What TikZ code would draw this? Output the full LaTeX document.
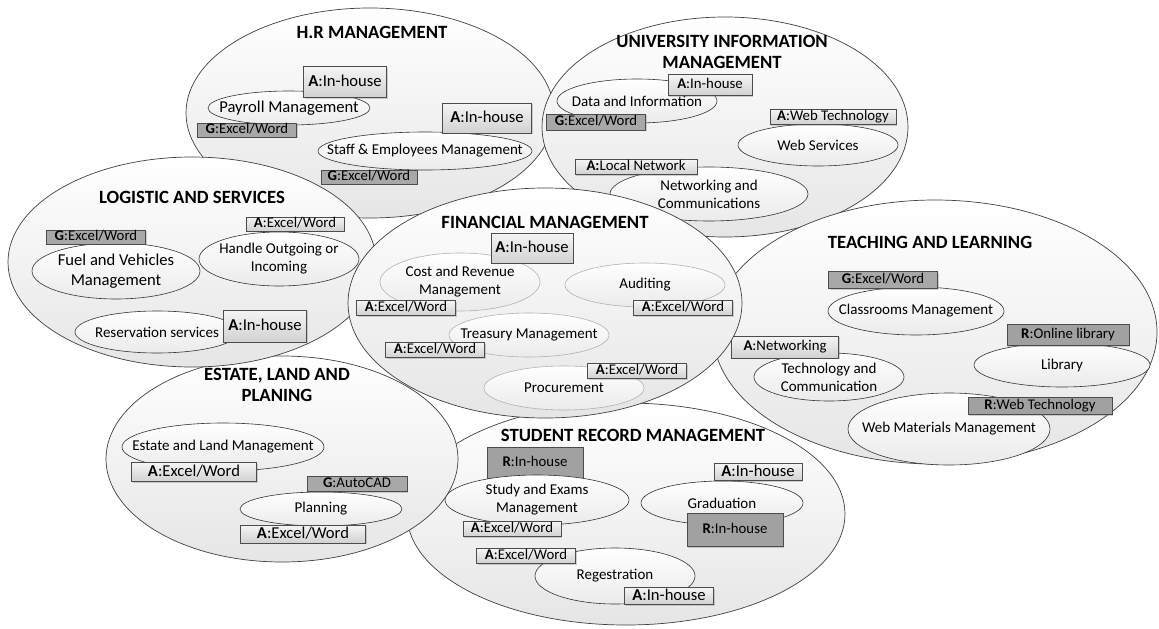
\documentclass[tikz,border=0pt]{standalone}
\usepackage{fontspec}
\setmainfont{Carlito}
\usetikzlibrary{shapes.geometric,shadows}
\tikzset{
  dept/.style      = {ellipse, draw=black!75, line width=0.7pt, inner sep=0pt, top color=white, bottom color=black!10},
  depttitle/.style = {align=center, font=\fontsize{18.7}{21.5}\selectfont\bfseries},
  proc/.style      = {ellipse, draw=black!80, line width=0.6pt, inner sep=0pt, top color=white, bottom color=black!8},
  fproc/.style     = {proc, draw=black!30},
  proctext/.style  = {align=center, inner sep=0pt, font=\fontsize{15}{18}\selectfont},
  big/.style       = {font=\fontsize{16.6}{19.5}\selectfont},
  sw/.style        = {draw=black!70, line width=0.6pt, inner sep=0pt, text height=10.5pt, text depth=3pt,
                      font=\fontsize{14.8}{17}\selectfont,
                      drop shadow={shadow xshift=1.4pt, shadow yshift=-1.4pt, opacity=.35}},
  swL/.style       = {font=\fontsize{16.6}{19}\selectfont, text height=11.5pt, text depth=3.5pt},
  swA/.style       = {sw, top color=black!4, bottom color=black!18},
  swG/.style       = {sw, fill=black!34},
  swR/.style       = {sw, fill=black!37},
}
\newcommand{\sys}[2]{\textbf{#1}:#2}

\begin{document}
\begin{tikzpicture}[x=1pt, y=-1pt]
  \useasboundingbox (0,0) rectangle (1159,629);

  % H.R management
  \node[dept, minimum width=368pt, minimum height=210pt] (hr) at (370,113) {};
  \node[depttitle] (hrT) at (372,32) {H.R MANAGEMENT};
  \node[proc, minimum width=162pt, minimum height=34pt, label={[proctext, big]center:Payroll Management}] (pay) at (289,108) {};
  \node[swA, swL, minimum width=83pt, minimum height=31pt] (payA) at (345,82) {\sys{A}{In-house}};
  \node[swG, minimum width=99pt, minimum height=14pt] (payG) at (247,130) {\sys{G}{Excel/Word}};
  \node[proc, minimum width=214pt, minimum height=38pt, label={[proctext]center:Staff \& Employees Management}] (staff) at (425,151) {};
  \node[swA, swL, minimum width=89pt, minimum height=30pt] (staffA) at (487,118) {\sys{A}{In-house}};
  \node[swG, minimum width=96pt, minimum height=14pt] (staffG) at (369,177) {\sys{G}{Excel/Word}};

  % university information management
  \node[dept, minimum width=366pt, minimum height=220pt] (uim) at (725,127) {};
  \node[depttitle] (uimT) at (722,52) {UNIVERSITY INFORMATION\\MANAGEMENT};
  \node[proc, minimum width=160pt, minimum height=44pt, label={[proctext]center:Data and Information}] (data) at (637,101) {};
  \node[swA, minimum width=84pt, minimum height=21pt] (dataA) at (710,85) {\sys{A}{In-house}};
  \node[swG, minimum width=99pt, minimum height=16pt] (dataG) at (596,122) {\sys{G}{Excel/Word}};
  \node[proc, minimum width=160pt, minimum height=42pt, label={[proctext]center:Web Services}] (websrv) at (818,145) {};
  \node[swA, minimum width=126pt, minimum height=15pt] (websrvA) at (833,117) {\sys{A}{Web Technology}};
  \node[proc, minimum width=198pt, minimum height=54pt, label={[proctext]center:Networking and\\Communications}] (netcom) at (709,194) {};
  \node[swA, minimum width=122pt, minimum height=15pt] (netcomA) at (636,167) {\textbf{A:}Local Network};

  % student record management
  \node[dept, minimum width=438pt, minimum height=222pt] (srm) at (626,514) {};
  \node[depttitle] (srmT) at (633,435) {STUDENT RECORD MANAGEMENT};
  \node[swR, minimum width=96pt, minimum height=31pt] (studyR) at (535,463) {\sys{R}{In-house}};
  \node[proc, minimum width=184pt, minimum height=50pt, label={[proctext]center:Study and Exams\\Management}] (study) at (537,500) {};
  \node[swA, minimum width=98pt, minimum height=15pt] (studyA) at (512,529) {\sys{A}{Excel/Word}};
  \node[proc, minimum width=162pt, minimum height=44pt, label={[proctext]center:Graduation}] (grad) at (722,503) {};
  \node[swA, swL, minimum width=88pt, minimum height=17pt] (gradA) at (758,472) {\sys{A}{In-house}};
  \node[swR, minimum width=96pt, minimum height=33pt] (gradR) at (735,530) {\sys{R}{In-house}};
  \node[proc, minimum width=160pt, minimum height=56pt, label={[proctext]center:Regestration}] (reg) at (615,576) {};
  \node[swA, minimum width=99pt, minimum height=15pt] (regA) at (526,556) {\sys{A}{Excel/Word}};
  \node[swA, swL, minimum width=89pt, minimum height=17pt] (regB) at (669,596) {\sys{A}{In-house}};

  % estate, land and planing
  \node[dept, minimum width=352pt, minimum height=206pt] (est) at (282,459) {};
  \node[depttitle] (estT) at (277,385) {ESTATE, LAND AND\\PLANING};
  \node[proc, minimum width=202pt, minimum height=48pt, label={[proctext]center:Estate and Land Management}] (land) at (223,447) {};
  \node[swA, swL, minimum width=125pt, minimum height=19pt] (landA) at (194,472) {\sys{A}{Excel/Word}};
  \node[proc, minimum width=162pt, minimum height=34pt, label={[proctext]center:Planning}] (plan) at (321,509) {};
  \node[swG, minimum width=100pt, minimum height=15pt] (planG) at (357,484) {\sys{G}{AutoCAD}};
  \node[swA, swL, minimum width=125pt, minimum height=18pt] (planA) at (303,534) {\sys{A}{Excel/Word}};

  % logistic and services
  \node[dept, minimum width=368pt, minimum height=210pt] (log) at (192,262) {};
  \node[depttitle] (logT) at (192,197) {LOGISTIC AND SERVICES};
  \node[proc, minimum width=168pt, minimum height=56pt, label={[proctext, big]center:Fuel and Vehicles\\Management}] (fuel) at (116,271) {};
  \node[swG, minimum width=99pt, minimum height=14pt] (fuelG) at (96,237) {\sys{G}{Excel/Word}};
  \node[proc, minimum width=160pt, minimum height=54pt, label={[proctext]center:Handle Outgoing or\\Incoming}] (mail) at (279,259) {};
  \node[swA, minimum width=98pt, minimum height=14pt] (mailA) at (295,224) {\sys{A}{Excel/Word}};
  \node[proc, minimum width=164pt, minimum height=42pt, label={[proctext]center:Reservation services}] (resv) at (157,332) {};
  \node[swA, swL, minimum width=83pt, minimum height=32pt] (resvA) at (265,326) {\sys{A}{In-house}};

  % teaching and learning
  \node[dept, minimum width=444pt, minimum height=264pt] (teach) at (935,332) {};
  \node[depttitle] (teachT) at (930,242) {TEACHING AND LEARNING};
  \node[proc, minimum width=176pt, minimum height=48pt, label={[proctext]center:Classrooms Management}] (room) at (916,311) {};
  \node[swG, minimum width=109pt, minimum height=17pt] (roomG) at (883,280) {\sys{G}{Excel/Word}};
  \node[proc, minimum width=176pt, minimum height=44pt, label={[proctext]center:Library}] (lib) at (1062,365) {};
  \node[swR, minimum width=122pt, minimum height=21pt] (libR) at (1068,335) {\sys{R}{Online library}};
  \node[proc, minimum width=150pt, minimum height=48pt, label={[proctext]center:Technology and\\Communication}] (tech) at (829,377) {};
  \node[swA, minimum width=107pt, minimum height=22pt] (techA) at (785,347) {\sys{A}{Networking}};
  \node[proc, minimum width=202pt, minimum height=72pt, label={[proctext]center:Web Materials Management}] (webmat) at (949,429) {};
  \node[swR, minimum width=144pt, minimum height=17pt] (webmatR) at (1040,406) {\sys{R}{Web Technology}};

  % financial management
  \node[dept, minimum width=394pt, minimum height=230pt] (fin) at (545,303) {};
  \node[depttitle] (finT) at (545,222) {FINANCIAL MANAGEMENT};
  \node[fproc, minimum width=160pt, minimum height=58pt, label={[proctext]center:Cost and Revenue\\Management}] (cost) at (460,282) {};
  \node[swA, swL, minimum width=82pt, minimum height=30pt] (finA) at (532,248) {\sys{A}{In-house}};
  \node[swA, minimum width=99pt, minimum height=15pt] (costA) at (406,308) {\sys{A}{Excel/Word}};
  \node[fproc, minimum width=160pt, minimum height=44pt, label={[proctext]center:Auditing}] (audit) at (645,285) {};
  \node[swA, minimum width=99pt, minimum height=15pt] (auditA) at (683,308) {\sys{A}{Excel/Word}};
  \node[fproc, minimum width=160pt, minimum height=44pt, label={[proctext]center:Treasury Management}] (treas) at (529,335) {};
  \node[swA, minimum width=99pt, minimum height=15pt] (treasA) at (435,350) {\sys{A}{Excel/Word}};
  \node[fproc, minimum width=160pt, minimum height=44pt, label={[proctext]center:Procurement}] (proc) at (564,388) {};
  \node[swA, minimum width=99pt, minimum height=15pt] (procA) at (637,371) {\sys{A}{Excel/Word}};
\end{tikzpicture}
\end{document}
